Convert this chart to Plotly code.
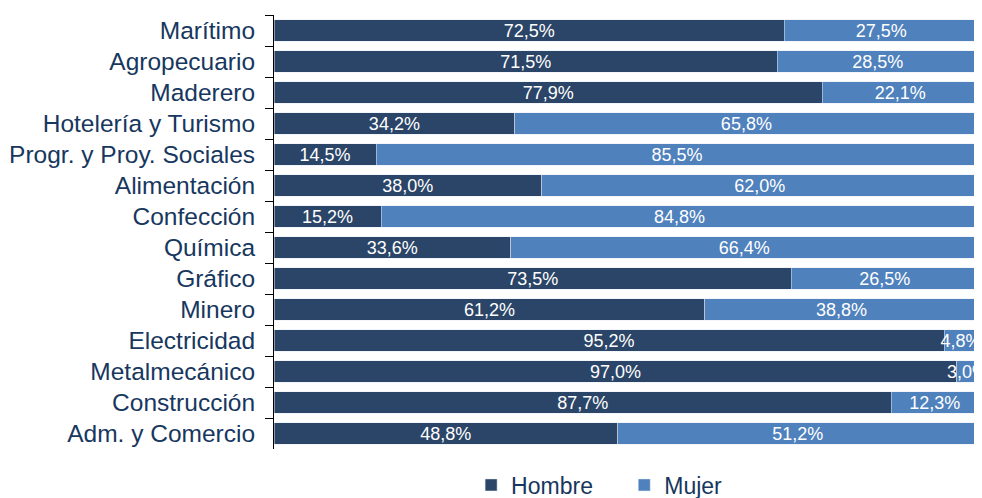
import plotly.graph_objects as go

categories = ["Marítimo", "Agropecuario", "Maderero", "Hotelería y Turismo",
              "Progr. y Proy. Sociales", "Alimentación", "Confección", "Química",
              "Gráfico", "Minero", "Electricidad", "Metalmecánico", "Construcción",
              "Adm. y Comercio"]
hombre = [72.5, 71.5, 77.9, 34.2, 14.5, 38.0, 15.2, 33.6, 73.5, 61.2, 95.2, 97.0, 87.7, 48.8]
mujer = [27.5, 28.5, 22.1, 65.8, 85.5, 62.0, 84.8, 66.4, 26.5, 38.8, 4.8, 3.0, 12.3, 51.2]

def fmt(v):
    return f"{v:.1f}%".replace(".", ",")

FONT = "Liberation Sans, Arial"
fig = go.Figure()
fig.add_trace(go.Bar(
    y=categories, x=hombre, name="Hombre", orientation="h",
    marker=dict(color="#2B4568"),
    text=[fmt(v) for v in hombre], textposition="inside", insidetextanchor="middle",
    textangle=0,
    textfont=dict(color="white", size=18, family=FONT),
    cliponaxis=False, legend="legend",
))
fig.add_trace(go.Bar(
    y=categories, x=mujer, name="Mujer", orientation="h",
    marker=dict(color="#4F81BD"),
    text=[fmt(v) for v in mujer], textposition="inside", insidetextanchor="middle",
    textangle=0,
    textfont=dict(color="white", size=18, family=FONT),
    cliponaxis=False, legend="legend2",
))

leg_common = dict(orientation="h", yref="container", y=13 / 490, yanchor="middle",
                  xanchor="left", font=dict(size=23, color="#17375E"),
                  itemwidth=30, bgcolor="rgba(0,0,0,0)")

fig.update_layout(
    barmode="stack", bargap=0.32,
    width=974, height=490,
    margin=dict(l=266, r=4, t=7, b=49, autoexpand=False),
    plot_bgcolor="white", paper_bgcolor="white",
    font=dict(family=FONT, color="#17375E"),
    uniformtext=dict(minsize=18, mode="show"),
    xaxis=dict(range=[0, 100], visible=False, fixedrange=True, automargin=False),
    yaxis=dict(autorange="reversed", type="category", tickson="boundaries",
               ticks="outside", ticklen=8, tickcolor="black",
               showline=True, linecolor="black", linewidth=1,
               showgrid=False, tickfont=dict(size=24.5, color="#17375E"),
               ticklabelstandoff=13, automargin=False),
    legend=dict(x=0.280, **leg_common),
    legend2=dict(x=0.4975, **leg_common),
    showlegend=True,
)

fig.write_html("out.html")
